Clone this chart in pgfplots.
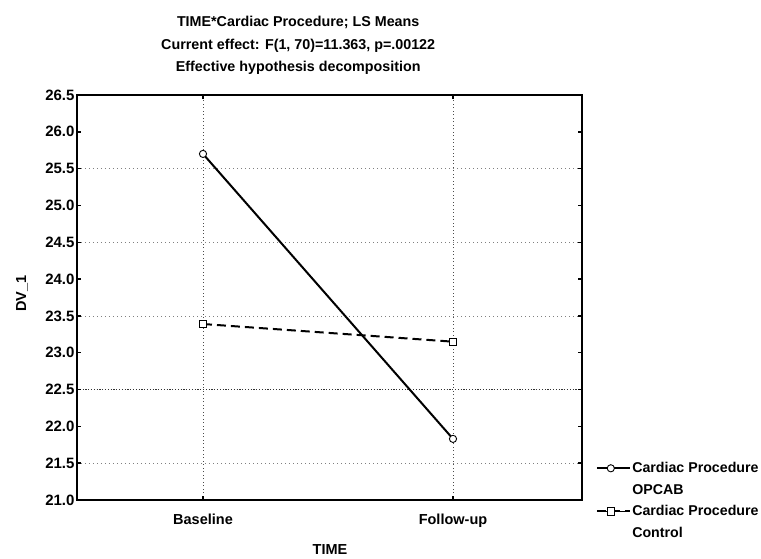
\documentclass[border=0pt]{standalone}
\usepackage{fontspec}
\setmainfont{Liberation Sans}
\usepackage{pgfplots}
\pgfplotsset{compat=1.18}

\begin{document}
\begin{tikzpicture}
\clip (-77pt,-58pt) rectangle (684pt,500pt);
\begin{axis}[
  at={(0,0)}, anchor=south west,
  scale only axis, width=505pt, height=405pt,
  xmin=-0.504, xmax=1.516,
  ymin=21, ymax=26.5,
  xtick={0,1}, xticklabels={Baseline, Follow-up},
  ytick={21,21.5,...,26.5},
  minor ytick={22.5},
  extra y ticks={21.5,23.5,24.5,25.5},
  extra y tick labels={},
  extra y tick style={grid=major, major grid style={gray, dash pattern=on 1pt off 3pt, line width=0.7pt}},
  xmajorgrids, major grid style={black!70, dash pattern=on 1pt off 2.5pt, line width=0.7pt},
  yminorgrids, minor grid style={black!80, dash pattern=on 1.2pt off 1.6pt, line width=0.7pt},
  axis line style={line width=2pt},
  tick style={black, line width=1.4pt},
  major tick length=4pt, minor tick length=4pt,
  tick align=inside,
  /pgf/number format/assume math mode=true,
  yticklabel style={font=\fontsize{15}{17}\selectfont\bfseries, xshift=1pt,
    /pgf/number format/.cd, fixed, fixed zerofill, precision=1},
  xticklabel style={font=\fontsize{14.5}{16}\selectfont\bfseries, anchor=base, yshift=-24pt},
  xlabel={TIME}, ylabel={DV\_1},
  every axis x label/.style={at={(axis description cs:0.501,-0.123)}, anchor=center,
    font=\fontsize{14.5}{16}\selectfont\bfseries},
  every axis y label/.style={at={(axis description cs:-0.109,0.51)}, rotate=90, anchor=center,
    font=\fontsize{14.5}{16}\selectfont\bfseries},
  title={TIME*Cardiac Procedure; LS Means\\Current effect: F(1, 70)=11.363, p=.00122\\Effective hypothesis decomposition},
  every axis title/.style={at={(axis description cs:0.438,1)}, anchor=south, align=center,
    yshift=17pt, font=\fontsize{14.3}{22.5}\selectfont\bfseries},
  legend style={at={(axis description cs:1.021,0.102)}, anchor=north west, draw=none, fill=none,
    font=\fontsize{14.2}{16}\selectfont\bfseries, row sep=7pt,
    nodes={inner sep=1.5pt}},
  legend cell align=left,
  legend image code/.code={%
    \path (0pt,0pt) -- (33pt,0pt);
    \draw[#1, line width=1pt, dash pattern=on 30pt off 0pt, mark repeat=2, mark phase=2]
      plot coordinates {(0pt,0pt) (14pt,0pt) (29pt,0pt)};},
]
\addplot[black, line width=2pt, mark=*, mark size=3.6pt,
  mark options={solid, fill=white, line width=0.9pt}]
  coordinates {(0,25.70) (1,21.83)};
\addlegendentry{Cardiac Procedure}
\addlegendimage{empty legend}
\addlegendentry{OPCAB}
\addplot[black, line width=2pt, dash pattern=on 9pt off 5pt, mark=square*, mark size=3.6pt,
  mark options={solid, fill=white, line width=0.9pt}]
  coordinates {(0,23.39) (1,23.15)};
\addlegendentry{Cardiac Procedure}
\addlegendimage{empty legend}
\addlegendentry{Control}
\end{axis}
\end{tikzpicture}
\end{document}
